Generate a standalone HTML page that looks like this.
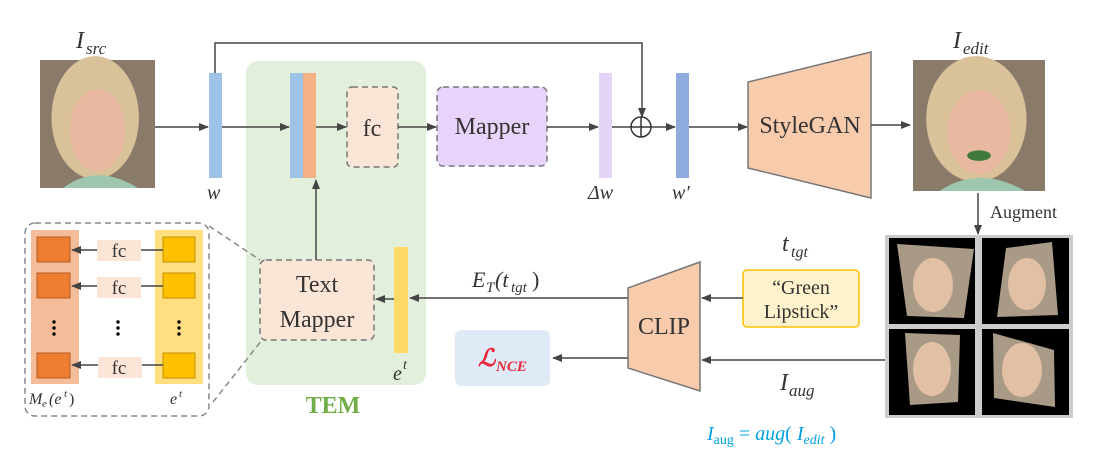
<!DOCTYPE html>
<html><head><meta charset="utf-8"><style>
body{margin:0;background:#fff;width:1101px;height:462px;overflow:hidden}
svg{display:block}
text{font-family:"Liberation Serif",serif;fill:#333}
.it{font-style:italic}
</style></head><body>
<svg width="1101" height="462" viewBox="0 0 1101 462" xmlns="http://www.w3.org/2000/svg">
<defs>
<marker id="a" markerWidth="10" markerHeight="10" refX="9" refY="5" orient="auto" markerUnits="userSpaceOnUse"><path d="M0,1 L10,5 L0,9 Z" fill="#444"/></marker>
<g id="face">
<rect x="0" y="0" width="100" height="100" fill="#8a7a6a"/>
<ellipse cx="48" cy="45" rx="38" ry="48" fill="#d9c19a"/>
<ellipse cx="50" cy="55" rx="24" ry="32" fill="#e8b8a0"/>
<path d="M20,100 Q50,80 85,100 Z" fill="#9fc7b0"/>
</g>
</defs>

<!-- TEM bg -->
<rect x="246" y="61" width="180" height="324" rx="12" fill="#e2efda"/>

<!-- source face -->
<g transform="translate(40,60) scale(1.15,1.28)"><use href="#face"/></g>
<text x="76" y="48" font-size="24" class="it">I</text><text x="86" y="54" font-size="17" class="it">src</text>

<!-- top skip -->
<polyline points="215,73 215,43 642,43 642,117" fill="none" stroke="#444" stroke-width="1.5" marker-end="url(#a)"/>

<!-- w -->
<line x1="155" y1="127" x2="208" y2="127" stroke="#444" stroke-width="1.5" marker-end="url(#a)"/>
<rect x="209" y="73" width="13" height="105" fill="#9dc3e6"/>
<text x="207" y="199" font-size="20" class="it">w</text>
<line x1="222" y1="127" x2="289" y2="127" stroke="#444" stroke-width="1.5" marker-end="url(#a)"/>
<rect x="290" y="73" width="13" height="105" fill="#9dc3e6"/>
<rect x="303" y="73" width="13" height="105" fill="#f4b183"/>
<line x1="316" y1="127" x2="346" y2="127" stroke="#444" stroke-width="1.5" marker-end="url(#a)"/>
<rect x="347" y="87" width="51" height="80" rx="5" fill="#fbe5d6" stroke="#777" stroke-width="1.5" stroke-dasharray="6,4"/>
<text x="372" y="136" font-size="24" text-anchor="middle">fc</text>
<line x1="398" y1="127" x2="436" y2="127" stroke="#444" stroke-width="1.5" marker-end="url(#a)"/>
<rect x="437" y="87" width="110" height="79" rx="6" fill="#e8d4fb" stroke="#777" stroke-width="1.5" stroke-dasharray="6,4"/>
<text x="492" y="134" font-size="24" text-anchor="middle">Mapper</text>
<line x1="547" y1="127" x2="598" y2="127" stroke="#444" stroke-width="1.5" marker-end="url(#a)"/>
<rect x="599" y="73" width="13" height="105" fill="#e4d4f7"/>
<text x="588" y="199" font-size="20" class="it">Δw</text>
<line x1="612" y1="127" x2="631" y2="127" stroke="#444" stroke-width="1.5"/>
<circle cx="641" cy="127" r="10" fill="none" stroke="#333" stroke-width="1.5"/>
<line x1="631" y1="127" x2="651" y2="127" stroke="#333" stroke-width="1.5"/>
<line x1="641" y1="117" x2="641" y2="137" stroke="#333" stroke-width="1.5"/>
<line x1="651" y1="127" x2="675" y2="127" stroke="#444" stroke-width="1.5" marker-end="url(#a)"/>
<rect x="676" y="73" width="13" height="105" fill="#8faadc"/>
<text x="672" y="199" font-size="20" class="it">w′</text>
<line x1="689" y1="127" x2="747" y2="127" stroke="#444" stroke-width="1.5" marker-end="url(#a)"/>

<!-- StyleGAN -->
<polygon points="748,82 871,52 871,198 748,168" fill="#f8cbad" stroke="#777" stroke-width="1.5"/>
<text x="810" y="133" font-size="24" text-anchor="middle">StyleGAN</text>
<line x1="871" y1="125" x2="910" y2="125" stroke="#444" stroke-width="1.5" marker-end="url(#a)"/>

<!-- edit face -->
<g transform="translate(913,60) scale(1.32,1.31)"><use href="#face"/><ellipse cx="50" cy="73" rx="9" ry="4" fill="#3f7a3a"/></g>
<text x="953" y="48" font-size="24" class="it">I</text><text x="963" y="54" font-size="17" class="it">edit</text>
<line x1="978" y1="193" x2="978" y2="234" stroke="#444" stroke-width="1.5" marker-end="url(#a)"/>
<text x="990" y="218" font-size="18">Augment</text>

<!-- augment grid -->
<rect x="885" y="235" width="188" height="183" fill="#ccc"/>
<rect x="889" y="238" width="86" height="86" fill="#000"/>
<rect x="982" y="238" width="87" height="86" fill="#000"/>
<rect x="889" y="329" width="86" height="86" fill="#000"/>
<rect x="982" y="329" width="87" height="86" fill="#000"/>
<polygon points="897,244 974,249 964,318 907,316" fill="#a89a86"/><ellipse cx="933" cy="285" rx="20" ry="27" fill="#e2c0a4"/>
<polygon points="1006,248 1052,242 1058,315 997,317" fill="#a89a86"/><ellipse cx="1027" cy="284" rx="19" ry="26" fill="#e2c0a4"/>
<polygon points="905,333 960,335 958,402 910,405" fill="#a89a86"/><ellipse cx="932" cy="369" rx="19" ry="27" fill="#e2c0a4"/>
<polygon points="993,333 1054,350 1055,407 994,398" fill="#a89a86"/><ellipse cx="1022" cy="370" rx="20" ry="27" fill="#e2c0a4"/>

<!-- CLIP -->
<polygon points="628,288 700,262 700,391 628,368" fill="#f8cbad" stroke="#777" stroke-width="1.5"/>
<text x="664" y="334" font-size="24" text-anchor="middle">CLIP</text>
<rect x="743" y="270" width="116" height="57" rx="4" fill="#fff2cc" stroke="#ffc000" stroke-width="1.5"/>
<text x="801" y="294" font-size="20" text-anchor="middle">“Green</text>
<text x="801" y="318" font-size="20" text-anchor="middle">Lipstick”</text>
<text x="782" y="251" font-size="24" class="it">t</text><text x="791" y="257" font-size="16" class="it">tgt</text>
<line x1="743" y1="298" x2="702" y2="298" stroke="#444" stroke-width="1.5" marker-end="url(#a)"/>
<line x1="885" y1="360" x2="702" y2="360" stroke="#444" stroke-width="1.5" marker-end="url(#a)"/>
<text x="780" y="390" font-size="24" class="it">I</text><text x="789" y="396" font-size="17" class="it">aug</text>
<text x="707" y="440" font-size="20" fill="#00a0e0" style="fill:#00a0e0"><tspan class="it">I</tspan><tspan font-size="14" dy="4">aug</tspan><tspan dy="-4"> = </tspan><tspan class="it">aug</tspan>( <tspan class="it">I</tspan><tspan font-size="14" dy="4" class="it">edit</tspan><tspan dy="-4"> )</tspan></text>

<!-- E_T -->
<line x1="628" y1="298" x2="410" y2="298" stroke="#444" stroke-width="1.5" marker-end="url(#a)"/>
<text x="472" y="287" font-size="22" class="it">E</text><text x="486" y="292" font-size="15" class="it">T</text><text x="495" y="287" font-size="22" class="it">(t</text><text x="511" y="292" font-size="15" class="it">tgt</text><text x="532" y="287" font-size="22">)</text>
<rect x="394" y="247" width="14" height="106" fill="#ffd966"/>
<text x="393" y="380" font-size="20" class="it">e</text><text x="403" y="369" font-size="14" class="it">t</text>
<line x1="394" y1="299" x2="376" y2="299" stroke="#444" stroke-width="1.5" marker-end="url(#a)"/>

<!-- L_NCE -->
<line x1="628" y1="358" x2="553" y2="358" stroke="#444" stroke-width="1.5" marker-end="url(#a)"/>
<rect x="455" y="330" width="95" height="56" rx="6" fill="#deebf7"/>
<text x="478" y="366" font-size="24" class="it" style="fill:#e8263a;font-weight:bold">ℒ</text><text x="496" y="371" font-size="15" class="it" style="fill:#e8263a;font-weight:bold">NCE</text>

<!-- Text Mapper -->
<rect x="260" y="260" width="114" height="80" rx="6" fill="#fbe5d6" stroke="#777" stroke-width="1.5" stroke-dasharray="6,4"/>
<text x="317" y="292" font-size="24" text-anchor="middle">Text</text>
<text x="317" y="327" font-size="24" text-anchor="middle">Mapper</text>
<line x1="316" y1="260" x2="316" y2="180" stroke="#444" stroke-width="1.5" marker-end="url(#a)"/>
<text x="333" y="413" font-size="24" text-anchor="middle" style="fill:#70ad47;font-weight:bold">TEM</text>

<!-- inset -->
<line x1="209" y1="226" x2="260" y2="260" stroke="#888" stroke-width="1.5" stroke-dasharray="6,4"/>
<line x1="213" y1="402" x2="262" y2="340" stroke="#888" stroke-width="1.5" stroke-dasharray="6,4"/>
<rect x="25" y="223" width="184" height="193" rx="10" fill="none" stroke="#888" stroke-width="1.5" stroke-dasharray="6,4"/>
<rect x="31" y="230" width="48" height="154" fill="#f4bc98"/>
<rect x="155" y="230" width="48" height="154" fill="#ffdf80"/>
<g stroke-width="1">
<rect x="37" y="237" width="33" height="25" fill="#ed7d31" stroke="#b85a20"/>
<rect x="37" y="273" width="33" height="25" fill="#ed7d31" stroke="#b85a20"/>
<rect x="37" y="353" width="33" height="25" fill="#ed7d31" stroke="#b85a20"/>
<rect x="163" y="237" width="32" height="25" fill="#ffc000" stroke="#c09000"/>
<rect x="163" y="273" width="32" height="25" fill="#ffc000" stroke="#c09000"/>
<rect x="163" y="353" width="32" height="25" fill="#ffc000" stroke="#c09000"/>
</g>
<g stroke="#444" stroke-width="1.5">
<line x1="163" y1="250" x2="72" y2="250" marker-end="url(#a)"/>
<line x1="163" y1="286" x2="72" y2="286" marker-end="url(#a)"/>
<line x1="163" y1="365" x2="72" y2="365" marker-end="url(#a)"/>
</g>
<rect x="97" y="240" width="44" height="21" fill="#fbe5d6"/><text x="119" y="257" font-size="19" text-anchor="middle">fc</text>
<rect x="97" y="277" width="44" height="21" fill="#fbe5d6"/><text x="119" y="294" font-size="19" text-anchor="middle">fc</text>
<rect x="98" y="357" width="44" height="21" fill="#fbe5d6"/><text x="119" y="374" font-size="19" text-anchor="middle">fc</text>
<g fill="#000"><circle cx="54" cy="322" r="1.7"/><circle cx="54" cy="328" r="1.7"/><circle cx="54" cy="334" r="1.7"/>
<circle cx="118" cy="322" r="1.7"/><circle cx="118" cy="328" r="1.7"/><circle cx="118" cy="334" r="1.7"/>
<circle cx="179" cy="322" r="1.7"/><circle cx="179" cy="328" r="1.7"/><circle cx="179" cy="334" r="1.7"/></g>
<text x="29" y="404" font-size="16" class="it">M</text><text x="42" y="407" font-size="11" class="it">e</text><text x="49" y="404" font-size="16" class="it">(e</text><text x="64" y="397" font-size="11" class="it">t</text><text x="69" y="404" font-size="16">)</text>
<text x="170" y="404" font-size="16" class="it">e</text><text x="179" y="397" font-size="11" class="it">t</text>
</svg>
</body></html>
